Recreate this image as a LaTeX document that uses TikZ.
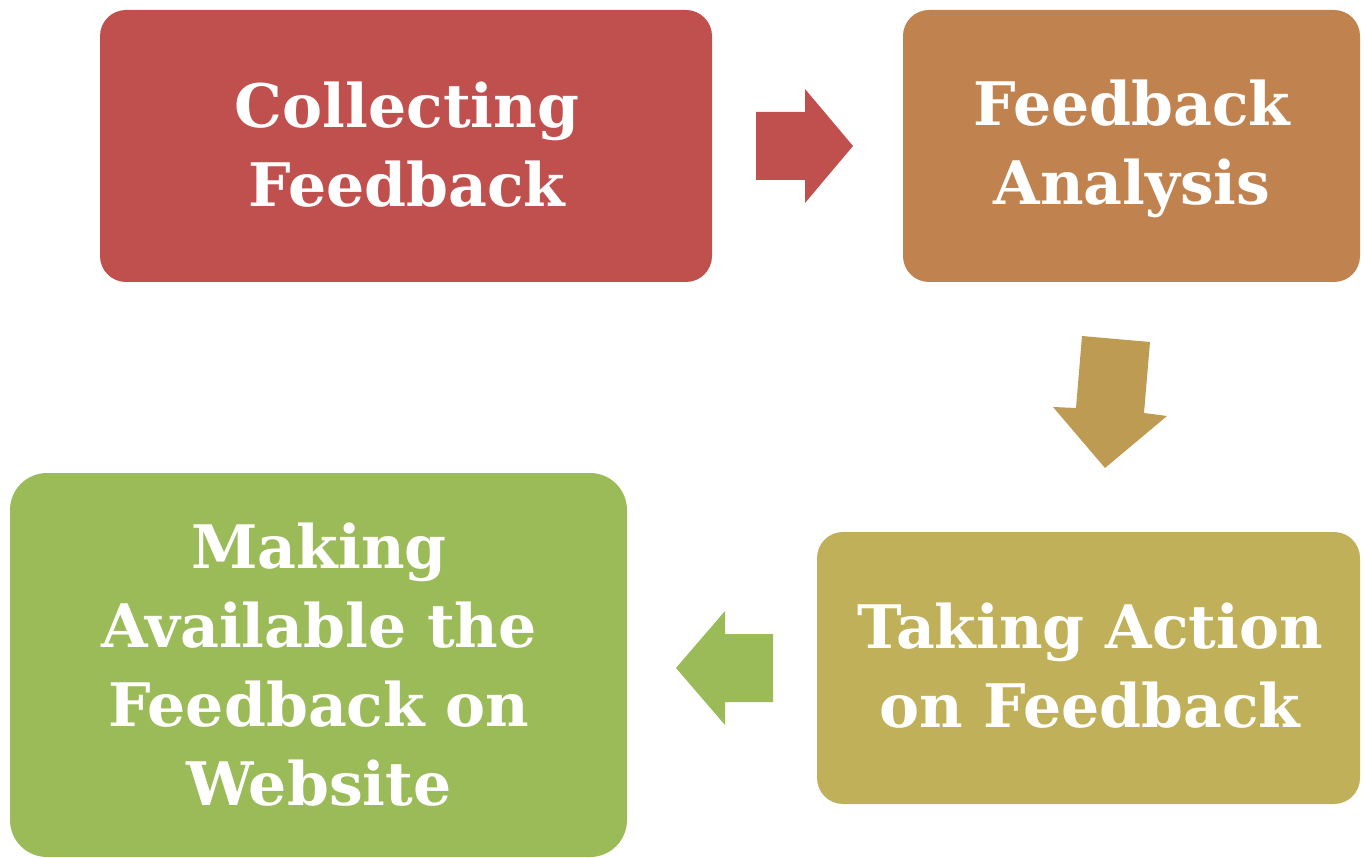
\documentclass[tikz,border=0pt]{standalone}
\usepackage{fontspec}
\setmainfont{DejaVu Serif}
\definecolor{cred}{RGB}{192,80,77}
\definecolor{corange}{RGB}{192,131,80}
\definecolor{cgold}{RGB}{190,155,82}
\definecolor{colive}{RGB}{192,176,89}
\definecolor{cgreen}{RGB}{155,187,89}
\tikzset{
  lbl/.style={text=white, font=\fontsize{60}{79}\selectfont\bfseries, align=center, inner sep=0pt}
}
\begin{document}
\begin{tikzpicture}[x=1pt,y=-1pt]
\useasboundingbox (0,0) rectangle (1365,858);
% boxes
\fill[cred, rounded corners=26] (100,10) rectangle (712,282);
\fill[corange, rounded corners=26] (903,10) rectangle (1360,282);
\fill[colive, rounded corners=26] (817,532) rectangle (1360,804);
\fill[cgreen, rounded corners=37] (10,473) rectangle (627,857);
% labels
\node[lbl] (collect) at (407,145) {Collecting\\Feedback};
\node[lbl] (analysis) at (1132,149) {Feedback\\Analysis};
\node[lbl] (action) at (1090,666) {Taking Action\\on Feedback};
\node[lbl] (website) at (319,665) {Making\\Available the\\Feedback on\\Website};
% block arrows
\fill[cred] (756,112) -- (805,112) -- (805,89) -- (853,146) -- (805,203) -- (805,180) -- (756,180) -- cycle;
\fill[cgold] (1082,336) -- (1150,342) -- (1144,413) -- (1167,416) -- (1105,468) -- (1053,407) -- (1076,408) -- cycle;
\fill[cgreen] (773,634) -- (725,634) -- (725,611) -- (676,668) -- (725,725) -- (725,702) -- (773,702) -- cycle;
\end{tikzpicture}
\end{document}
